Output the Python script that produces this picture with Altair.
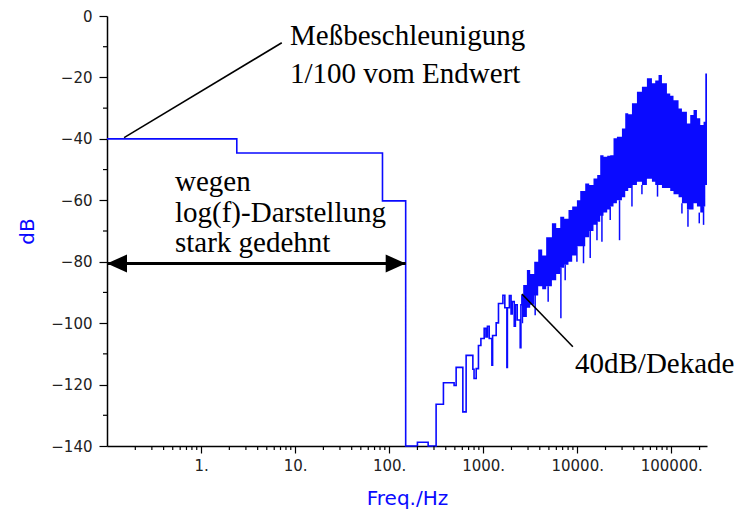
import altair as alt
import pandas as pd

BLUE = "#0a0aff"

# ---- stepped low-frequency part of the spectrum (Hz, dB) ----
step_freq = [0.1, 2.4, 85, 150, 200, 260, 316, 378, 491, 516, 608, 659, 777, 800, 843,
             891, 946, 1025, 1070, 1110, 1160, 1238, 1260, 1375, 1455, 1621, 1700, 1788,
             1810, 1900, 1980, 2036, 2140, 2200, 2300, 2477, 2520, 2582, 2665]
step_db = [-40, -44.6, -60.2, -140, -138.8, -140, -126.4, -119.4, -120.3, -114.4, -128.9,
           -110.5, -115, -118, -114.8, -107.3, -105, -101.7, -104.5, -101, -105, -113.7,
           -104, -99.9, -93.6, -90.9, -95, -114.4, -95, -91, -97, -93, -101, -94, -99,
           -108, -94, -91, -91]

# ---- dense high-frequency part: upper / lower envelope (Hz, dB) ----
band_freq = [2582, 2665, 2917, 3162, 3490, 3849, 4244, 4677, 5383, 5980, 6598, 7274, 8079,
             8845, 9929, 10770, 12170, 13420, 14900, 16320, 17570, 19050, 20850, 22440,
             24330, 26440, 29900, 32420, 34890, 38210, 43170, 48780, 55110, 62320, 67560,
             73250, 79640, 89980, 97530, 105700, 119600, 129900, 146800, 159200, 172600,
             187600, 203500, 220600, 230100, 240000]
band_hi = [-91, -87.6, -82.7, -84, -80, -76, -78, -72, -67.5, -69, -65.4, -66, -63.2, -62,
           -60, -57, -54.5, -55, -52.9, -51.8, -45.3, -45.8, -45.5, -45.3, -39.8, -39.3,
           -36.6, -31.7, -32, -28.4, -24.7, -23, -20.3, -21.9, -21, -19.2, -21.9, -25.2,
           -26, -27.4, -30.1, -31.2, -35, -32.2, -30.6, -33.3, -35.5, -34.4, -18.7, -55]
band_lo = [-100, -98, -95, -94, -91, -88, -89, -88, -86, -84, -82, -81, -80, -78, -75,
           -75, -72, -70, -68, -67, -65, -64, -63, -62, -61, -60, -59, -57, -56, -55, -54,
           -55, -53, -54, -55, -55, -56, -56, -57, -58, -59, -61, -63, -63, -61, -62, -64,
           -62, -55, -55]

# ---- single deep dips below the dense band (Hz, dB from, dB to) ----
dip_freq = [3573, 4911, 6707, 7450, 9929, 11670, 13750, 16220, 18320, 22440, 28190,
            38210, 48780, 71450, 129900, 150600, 198600, 220600]
dip_top = [-90, -88, -82, -81, -75, -72, -70, -67, -64, -62, -60, -55, -55, -55, -61,
           -63, -64, -62]
dip_bottom = [-97.4, -93, -98.4, -86, -80, -80.5, -78.8, -73, -73.5, -66.4, -73, -62,
              -58, -58.8, -64.3, -68.6, -67.5, -68]

# ---- axis ticks ----
x_major = [1, 10, 100, 1000, 10000, 100000]
x_minor = [m * d for d in [0.1, 1, 10, 100, 1000, 10000] for m in range(2, 10)] + [200000]
y_major = [-140, -120, -100, -80, -60, -40, -20, 0]
y_minor = [-130, -110, -90, -70, -50, -30, -10]

# ---- annotation texts ----
annot_texts = ["Meßbeschleunigung", "1/100 vom Endwert", "wegen", "log(f)-Darstellung",
               "stark gedehnt", "40dB/Dekade"]

W, H = 600, 430
xs = alt.Scale(type="log", domain=[0.1, 240000], nice=False)
ys = alt.Scale(domain=[-140, 0], nice=False, zero=False)

step_df = pd.DataFrame({"f": step_freq, "db": step_db})
band_df = pd.DataFrame({"f": band_freq, "hi": band_hi, "lo": band_lo})
dip_df = pd.DataFrame({"f": dip_freq, "a": dip_top, "b": dip_bottom})

main = alt.Chart(step_df).mark_line(
    interpolate="step-after", color=BLUE, strokeWidth=1.6
).encode(
    x=alt.X("f:Q", scale=xs, axis=alt.Axis(
        values=x_major, labelExpr="format(datum.value, 'd') + '.'", title="Freq./Hz",
        tickSize=7, labelPadding=5, titleY=42, titleBaseline="top", grid=False)),
    y=alt.Y("db:Q", scale=ys, axis=alt.Axis(
        values=y_major, title="dB", tickSize=8, labelPadding=7, titleX=-70, titleY=H / 2,
        titleAngle=270, titleBaseline="bottom", grid=False)),
)

band = alt.Chart(band_df).mark_area(interpolate="step-after", color=BLUE, opacity=1).encode(
    x=alt.X("f:Q", scale=xs, axis=None),
    y=alt.Y("hi:Q", scale=ys, axis=None),
    y2="lo:Q",
)

dips = alt.Chart(dip_df).mark_rule(color=BLUE, strokeWidth=1.5).encode(
    x=alt.X("f:Q", scale=xs, axis=None),
    y=alt.Y("a:Q", scale=ys, axis=None),
    y2="b:Q",
)

xminor = alt.Chart(pd.DataFrame({"f": x_minor})).mark_rule(color="black", strokeWidth=1.2).encode(
    x=alt.X("f:Q", scale=xs, axis=None),
    y=alt.value(H), y2=alt.value(H + 4),
)
yminor = alt.Chart(pd.DataFrame({"db": y_minor})).mark_rule(color="black", strokeWidth=1.2).encode(
    y=alt.Y("db:Q", scale=ys, axis=None),
    x=alt.value(0), x2=alt.value(-4),
)

lines_df = pd.DataFrame({
    "f1": [0.152, 2582], "d1": [-39.6, -90.5],
    "f2": [7.22, 8995], "d2": [-8.7, -107.7],
})
pointer = alt.Chart(lines_df).mark_rule(color="black", strokeWidth=1.6).encode(
    x=alt.X("f1:Q", scale=xs, axis=None), x2="f2:Q",
    y=alt.Y("d1:Q", scale=ys, axis=None), y2="d2:Q",
)

arrow_df = pd.DataFrame({"f1": [0.1], "f2": [150], "d": [-80.6]})
shaft = alt.Chart(arrow_df).mark_rule(color="black", strokeWidth=3).encode(
    x=alt.X("f1:Q", scale=xs, axis=None), x2="f2:Q",
    y=alt.Y("d:Q", scale=ys, axis=None),
)
head_r = alt.Chart(arrow_df).mark_point(
    shape="M0,0L-1,-0.45L-1,0.45Z", filled=True, color="black", opacity=1, size=1600, strokeWidth=0
).encode(x=alt.X("f2:Q", scale=xs, axis=None), y=alt.Y("d:Q", scale=ys, axis=None))
head_l = alt.Chart(arrow_df).mark_point(
    shape="M0,0L1,-0.45L1,0.45Z", filled=True, color="black", opacity=1, size=1600, strokeWidth=0
).encode(x=alt.X("f1:Q", scale=xs, axis=None), y=alt.Y("d:Q", scale=ys, axis=None))

text_pos = [(183, 29), (183, 67), (68, 175), (68, 205.5), (68, 235.5), (468, 356.5)]
texts = []
for t, (px, py) in zip(annot_texts, text_pos):
    texts.append(
        alt.Chart(alt.Data(values=[{}])).mark_text(
            text=t, font="Liberation Serif", fontSize=29, color="black",
            align="left", baseline="alphabetic"
        ).encode(x=alt.value(px), y=alt.value(py))
    )

chart = alt.layer(
    main, band, dips, xminor, yminor, pointer, shaft, head_r, head_l, *texts
).resolve_axis(x="independent", y="independent").properties(
    width=W, height=H,
    autosize=alt.AutoSizeParams(type="none"),
    padding={"left": 107, "top": 16, "right": 32, "bottom": 69},
).configure_view(stroke=None).configure_axis(
    domainColor="black", domainWidth=1.5, tickColor="black", tickWidth=1.2,
    labelFont="DejaVu Sans", labelFontSize=15, labelColor="#222",
    titleFont="DejaVu Sans", titleFontSize=20, titleColor=BLUE, titleFontWeight="normal",
)

chart.save("out.html", embed_options={"renderer": "svg", "actions": False})
